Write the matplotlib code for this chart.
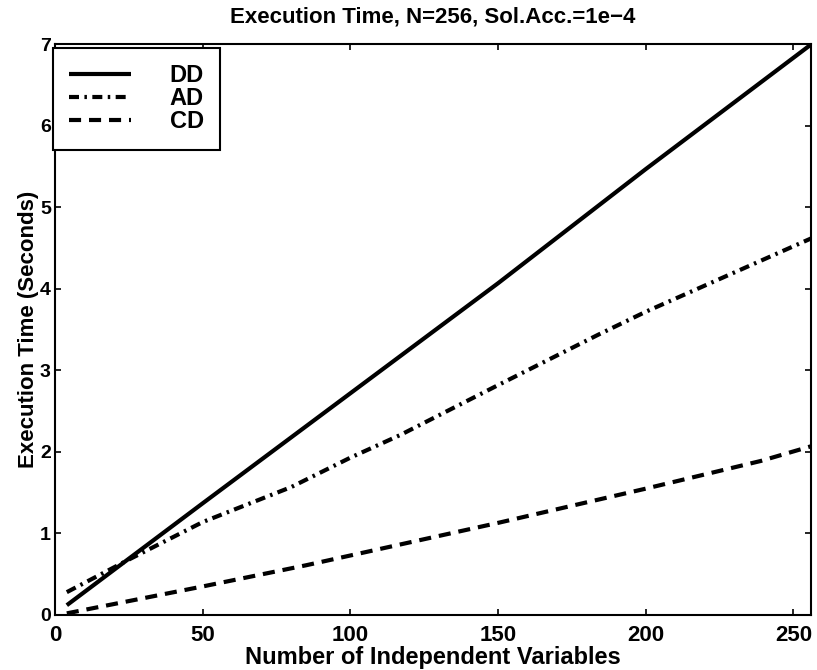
import matplotlib
matplotlib.use("Agg")
import matplotlib.pyplot as plt

# Execution time vs. number of independent variables
dd_x = [4, 50, 100, 150, 200, 256]
dd_y = [0.12, 1.37, 2.72, 4.07, 5.47, 7.00]

ad_x = [4, 25, 50, 80, 100, 117, 150, 184, 200, 256]
ad_y = [0.28, 0.68, 1.14, 1.57, 1.93, 2.21, 2.82, 3.44, 3.72, 4.62]

cd_x = [4, 50, 85, 100, 150, 200, 239, 256]
cd_y = [0.02, 0.35, 0.61, 0.73, 1.13, 1.55, 1.89, 2.07]

x_ticks = [0, 50, 100, 150, 200, 250]
y_ticks = [0, 1, 2, 3, 4, 5, 6, 7]

plt.rcParams["font.family"] = ["Liberation Sans", "DejaVu Sans"]
plt.rcParams["font.weight"] = "bold"

fig = plt.figure(figsize=(8.17, 6.70), dpi=100)
ax = fig.add_axes([0.0673, 0.0821, 0.9254, 0.8515])

ax.plot(dd_x, dd_y, color="black", lw=3.0, solid_capstyle="butt", label="DD")
ax.plot(ad_x, ad_y, color="black", lw=3.0, dash_capstyle="butt",
        dashes=(2.4, 1.3, 0.6, 1.3), label="AD")
ax.plot(cd_x, cd_y, color="black", lw=3.0, dash_capstyle="butt",
        dashes=(2.9, 1.9), label="CD")

ax.set_xlim(0, 256)
ax.set_ylim(0, 7)
ax.set_xticks(x_ticks)
ax.set_yticks(y_ticks)
ax.tick_params(direction="in", length=4, width=1.2, top=True, right=True)
ax.tick_params(axis="x", labelsize=16, pad=7)
ax.tick_params(axis="y", labelsize=14, pad=3)
for s in ax.spines.values():
    s.set_linewidth(1.5)

ax.set_title("Execution Time, N=256, Sol.Acc.=1e\u22124", fontsize=16,
             fontweight="bold", pad=16)
ax.set_xlabel("Number of Independent Variables", fontsize=17,
              fontweight="bold", labelpad=0)
ax.set_ylabel("Execution Time (Seconds)", fontsize=16, fontweight="bold",
              labelpad=1)

leg = ax.legend(loc="upper left", bbox_to_anchor=(-0.003, 0.994),
                fontsize=17, frameon=True, fancybox=False,
                edgecolor="black", framealpha=1, handlelength=2.6,
                handletextpad=1.65, labelspacing=0.0, borderpad=0.7,
                borderaxespad=0.0)
leg.get_frame().set_linewidth(1.5)
for t in leg.get_texts():
    t.set_fontweight("bold")

fig.savefig("out.png", dpi=100)
